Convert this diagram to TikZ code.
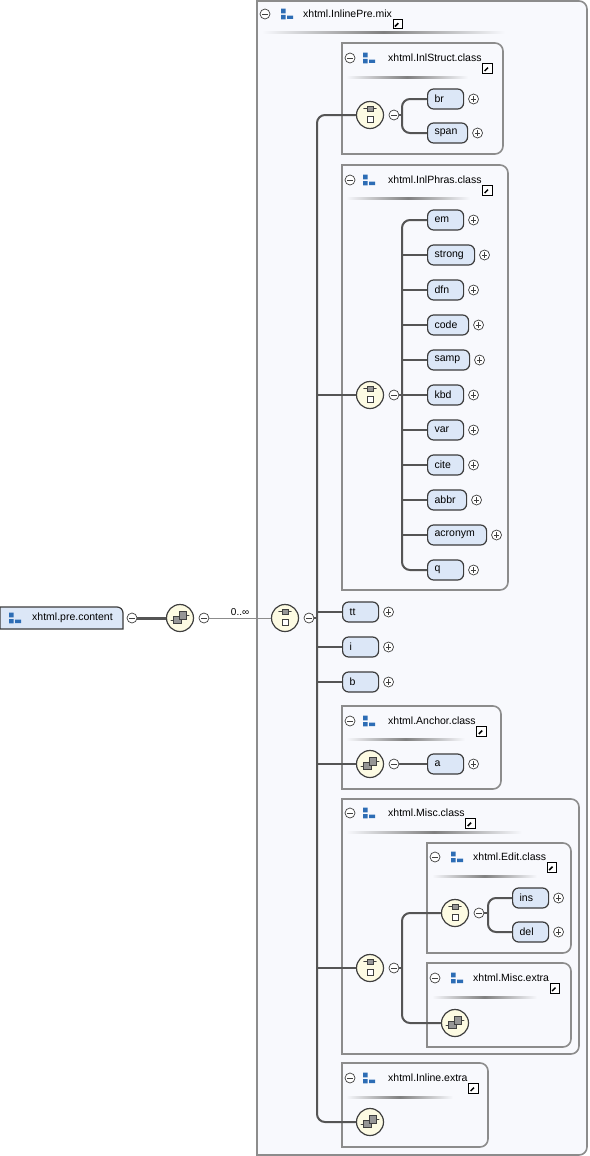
\documentclass[tikz,border=0pt]{standalone}
\usepackage{fontspec}
\setmainfont{Liberation Sans}
\usetikzlibrary{calc,positioning}

\definecolor{conncol}{HTML}{555555}
\definecolor{boxcol}{HTML}{8C8C8C}
\definecolor{bgcol}{HTML}{F8F9FD}
\definecolor{elcol}{HTML}{DCE7F7}
\definecolor{circcol}{HTML}{FDFBE3}
\definecolor{iconcol}{HTML}{2D6DB5}
\definecolor{sqcol}{HTML}{969696}

\newcommand{\grpbox}[4]{\draw[gbox] (#1,#2) -- ({#3-8},#2) to[out=0,in=90] (#3,{#2+8}) -- (#3,{#4-8}) to[out=-90,in=0] ({#3-8},#4) -- (#1,#4) -- cycle;}
\newcommand{\grpsep}[3]{\shade[left color=bgcol, right color=bgcol, middle color=black!50] (#1,{#3-1}) rectangle (#2,{#3+1});}

\begin{document}
\begin{tikzpicture}[x=1pt,y=-1pt]

    \tikzstyle{gbox} = [draw=boxcol, line width=1.6pt, fill=bgcol]
    \tikzstyle{pbox} = [draw=conncol!70!black, line width=1.2pt, fill=elcol]
    \tikzstyle{enode} = [draw=conncol!70!black, line width=1.2pt, fill=elcol, rounded corners=6pt, anchor=west, minimum height=20pt, inner xsep=7pt, inner ysep=0pt, text width=22pt, align=left, font=\fontsize{10.5}{12}\selectfont]
    \tikzstyle{tnode} = [anchor=west, inner sep=0pt, font=\fontsize{10.5}{12}\selectfont]
    \tikzstyle{conn} = [draw=conncol, line width=2pt]
    \tikzstyle{mnode} = [circle, draw=black!75, fill=white, line width=0.7pt, minimum size=10pt, inner sep=0pt, path picture={\draw[line width=0.8pt] ([xshift=-2.7pt]path picture bounding box.center) -- ([xshift=2.7pt]path picture bounding box.center);}]
    \tikzstyle{pnode} = [circle, draw=black!75, fill=white, line width=0.7pt, minimum size=10pt, inner sep=0pt, path picture={\draw[line width=0.8pt] ([xshift=-2.7pt]path picture bounding box.center) -- ([xshift=2.7pt]path picture bounding box.center) ([yshift=-2.7pt]path picture bounding box.center) -- ([yshift=2.7pt]path picture bounding box.center);}]
    \tikzstyle{cnode} = [circle, draw=black!75, line width=1.2pt, fill=circcol, minimum size=27pt, inner sep=0pt, path picture={\begin{scope}[shift={(path picture bounding box.center)}, x=1pt, y=1pt]
        \draw[line width=0.9pt] (-7.5,6.2) -- (7.5,6.2);
        \fill (-7.5,6.2) circle (1.1) (7.5,6.2) circle (1.1);
        \draw[line width=0.9pt, fill=sqcol] (-3,3.3) rectangle (3,9);
        \draw[line width=0.9pt, fill=white] (-3,-7.5) rectangle (3,-1.5);
      \end{scope}}]
    \tikzstyle{snode} = [circle, draw=black!75, line width=1.2pt, fill=circcol, minimum size=27pt, inner sep=0pt, path picture={\begin{scope}[shift={(path picture bounding box.center)}, x=1pt, y=1pt]
        \draw[line width=0.9pt] (-10,-2) -- (-6,-2) (6,3) -- (10,3);
        \fill (-10,-2) circle (1.1) (10,3) circle (1.1);
        \draw[line width=0.9pt, fill=sqcol] (-6.5,-5.5) rectangle (1,2);
        \draw[line width=0.9pt, fill=sqcol] (-1,-1) rectangle (6.5,6.5);
      \end{scope}}]
    \tikzstyle{gnode} = [inner sep=0pt, minimum width=13pt, minimum height=12pt, path picture={\begin{scope}[shift={(path picture bounding box.center)}, x=1pt, y=1pt]
        \fill[iconcol] (-6,0.7) rectangle (-1.5,5.3) (-6,-5.3) rectangle (-1.5,-1) (0.2,-5) rectangle (6,-1.7);
      \end{scope}}]
    \tikzstyle{lnode} = [draw=black, fill=white, line width=0.8pt, minimum size=9.5pt, inner sep=0pt, path picture={\begin{scope}[shift={(path picture bounding box.center)}, x=1pt, y=1pt]
        \draw[line width=1.5pt] (-2.8,-2.8) -- (1,1);
        \fill (3,3) -- (3,-1.6) -- (-1.6,3) -- cycle;
      \end{scope}}]

    \useasboundingbox (0,0) rectangle (589,1156);

    % group frames
    \grpbox{257}{1}{587}{1155}
    \grpsep{262}{505}{33}
    \grpbox{342}{43}{503}{154}
    \grpsep{346}{468}{77}
    \grpbox{342}{165}{508}{590}
    \grpsep{346}{470}{198}
    \grpbox{342}{706}{501}{789}
    \grpsep{346}{465}{739}
    \grpbox{342}{799}{579}{1054}
    \grpsep{346}{522}{832}
    \grpbox{427}{843}{571}{953}
    \grpsep{432}{537}{876}
    \grpbox{427}{963}{571}{1047}
    \grpsep{432}{537}{997}
    \grpbox{342}{1063}{488}{1147}
    \grpsep{346}{453}{1097}

    % titles
    \node[mnode] (m0) at (265,14) {};
    \node[gnode] (g0) at (287,14) {};
    \node[tnode] (t0) at (303,14) {xhtml.InlinePre.mix};
    \node[lnode, below right=0.5pt and 0.5pt of t0] (l0) {};

    \node[mnode] (m1) at (350,58) {};
    \node[gnode] (g1) at (369,58) {};
    \node[tnode] (t1) at (388,58) {xhtml.InlStruct.class};
    \node[lnode, below right=1pt and 0.5pt of t1] (l1) {};

    \node[mnode] (m2) at (350,180) {};
    \node[gnode] (g2) at (369,180) {};
    \node[tnode] (t2) at (388,180) {xhtml.InlPhras.class};
    \node[lnode, below right=1pt and 0.5pt of t2] (l2) {};

    \node[mnode] (m3) at (350,721) {};
    \node[gnode] (g3) at (369,721) {};
    \node[tnode] (t3) at (388,721) {xhtml.Anchor.class};
    \node[lnode, below right=1pt and 0.5pt of t3] (l3) {};

    \node[mnode] (m4) at (350,813) {};
    \node[gnode] (g4) at (369,813) {};
    \node[tnode] (t4) at (388,813) {xhtml.Misc.class};
    \node[lnode, below right=1pt and 0.5pt of t4] (l4) {};

    \node[mnode] (m5) at (435,857) {};
    \node[gnode] (g5) at (457,857) {};
    \node[tnode] (t5) at (473,857) {xhtml.Edit.class};
    \node[lnode, below right=1pt and 0.5pt of t5] (l5) {};

    \node[mnode] (m6) at (435,978) {};
    \node[gnode] (g6) at (457,978) {};
    \node[tnode] (t6) at (473,978) {xhtml.Misc.extra};
    \node[lnode, below right=1pt and 0.5pt of t6] (l6) {};

    \node[mnode] (m7) at (350,1078) {};
    \node[gnode] (g7) at (369,1078) {};
    \node[tnode] (t7) at (388,1078) {xhtml.Inline.extra};
    \node[lnode, below right=1pt and 0.5pt of t7] (l7) {};

    % root element
    \draw[pbox] (0,607) -- (117,607) to[out=0,in=90] (123,613) -- (123,629) -- (0,629) -- cycle;
    \node[gnode] (gp) at (15,618) {};
    \node[tnode] (pre) at (32,618) {xhtml.pre.content};
    \node[mnode] (mp) at (132,618) {};
    \node[snode] (s0) at (180,618) {};
    \node[mnode, right=4.5pt of s0] (ms0) {};
    \node[cnode] (c0) at (285,618) {};
    \node[mnode, right=4.5pt of c0] (mc0) {};
    \draw[conn, line width=3pt] (mp) -- (s0);
    \draw[draw=boxcol, line width=0.8pt] (ms0) -- node[above, inner sep=2pt, font=\fontsize{10}{12}\selectfont] (occ) {0..∞} (c0);

    % InlStruct
    \node[cnode] (c1) at (370,115) {};
    \node[mnode, right=4.5pt of c1] (mc1) {};
    \node[enode] (br) at (427,99) {br};
    \node[pnode, right=4pt of br] (pbr) {};
    \node[enode, text width=26pt] (span) at (427,133) {span};
    \node[pnode, right=4pt of span] (pspan) {};

    % InlPhras
    \node[cnode] (c2) at (370,395) {};
    \node[mnode, right=4.5pt of c2] (mc2) {};
    \node[enode] (em) at (427,220) {em};
    \node[pnode, right=4pt of em] (pem) {};
    \node[enode, text width=33pt] (strong) at (427,255) {strong};
    \node[pnode, right=4pt of strong] (pstrong) {};
    \node[enode] (dfn) at (427,290) {dfn};
    \node[pnode, right=4pt of dfn] (pdfn) {};
    \node[enode, text width=27pt] (code) at (427,325) {code};
    \node[pnode, right=4pt of code] (pcode) {};
    \node[enode, text width=28pt] (samp) at (427,360) {samp};
    \node[pnode, right=4pt of samp] (psamp) {};
    \node[enode] (kbd) at (427,395) {kbd};
    \node[pnode, right=4pt of kbd] (pkbd) {};
    \node[enode] (var) at (427,430) {var};
    \node[pnode, right=4pt of var] (pvar) {};
    \node[enode] (cite) at (427,465) {cite};
    \node[pnode, right=4pt of cite] (pcite) {};
    \node[enode, text width=25pt] (abbr) at (427,500) {abbr};
    \node[pnode, right=4pt of abbr] (pabbr) {};
    \node[enode, text width=45pt] (acronym) at (427,535) {acronym};
    \node[pnode, right=4pt of acronym] (pacronym) {};
    \node[enode] (q) at (427,570) {q};
    \node[pnode, right=4pt of q] (pq) {};

    % tt, i, b
    \node[enode] (tt) at (342,612) {tt};
    \node[pnode, right=4pt of tt] (ptt) {};
    \node[enode] (i) at (342,647) {i};
    \node[pnode, right=4pt of i] (pi) {};
    \node[enode] (b) at (342,682) {b};
    \node[pnode, right=4pt of b] (pb) {};

    % Anchor
    \node[snode] (s1) at (370,764) {};
    \node[mnode, right=4.5pt of s1] (ms1) {};
    \node[enode] (a) at (427,764) {a};
    \node[pnode, right=4pt of a] (pa) {};

    % Misc, Edit, Misc.extra
    \node[cnode] (c3) at (370,968) {};
    \node[mnode, right=4.5pt of c3] (mc3) {};
    \node[cnode] (c4) at (455,913) {};
    \node[mnode, right=4.5pt of c4] (mc4) {};
    \node[enode] (ins) at (512,898) {ins};
    \node[pnode, right=4pt of ins] (pins) {};
    \node[enode] (del) at (512,932) {del};
    \node[pnode, right=4pt of del] (pdel) {};
    \node[snode] (s2) at (455,1023) {};

    % Inline.extra
    \node[snode] (s3) at (370,1122) {};

    % connectors
    \coordinate (sp) at (317,618);
    \coordinate (j1) at (402,115);
    \coordinate (j2) at (402,395);
    \coordinate (j3) at (402,968);
    \coordinate (j4) at (488,913);

    \draw[conn] (mc0) -- (sp);
    \draw[conn, rounded corners=8pt] (c1.west) -| (sp) |- (s3.west);
    \draw[conn] (sp |- c2.west) -- (c2.west);
    \draw[conn] (sp |- tt.west) -- (tt.west);
    \draw[conn] (sp |- i.west) -- (i.west);
    \draw[conn] (sp |- b.west) -- (b.west);
    \draw[conn] (sp |- s1.west) -- (s1.west);
    \draw[conn] (sp |- c3.west) -- (c3.west);

    \draw[conn] (mc1) -- (j1);
    \draw[conn, rounded corners=8pt] (br.west) -| (j1) |- (span.west);

    \draw[conn] (mc2) -- (j2);
    \draw[conn, rounded corners=8pt] (em.west) -| (j2) |- (q.west);
    \draw[conn] (j2 |- strong.west) -- (strong.west);
    \draw[conn] (j2 |- dfn.west) -- (dfn.west);
    \draw[conn] (j2 |- code.west) -- (code.west);
    \draw[conn] (j2 |- samp.west) -- (samp.west);
    \draw[conn] (j2) -- (kbd.west);
    \draw[conn] (j2 |- var.west) -- (var.west);
    \draw[conn] (j2 |- cite.west) -- (cite.west);
    \draw[conn] (j2 |- abbr.west) -- (abbr.west);
    \draw[conn] (j2 |- acronym.west) -- (acronym.west);

    \draw[conn] (ms1) -- (a.west);

    \draw[conn] (mc3) -- (j3);
    \draw[conn, rounded corners=8pt] (c4.west) -| (j3) |- (s2.west);
    \draw[conn] (mc4) -- (j4);
    \draw[conn, rounded corners=8pt] (ins.west) -| (j4) |- (del.west);

  \end{tikzpicture}
\end{document}
